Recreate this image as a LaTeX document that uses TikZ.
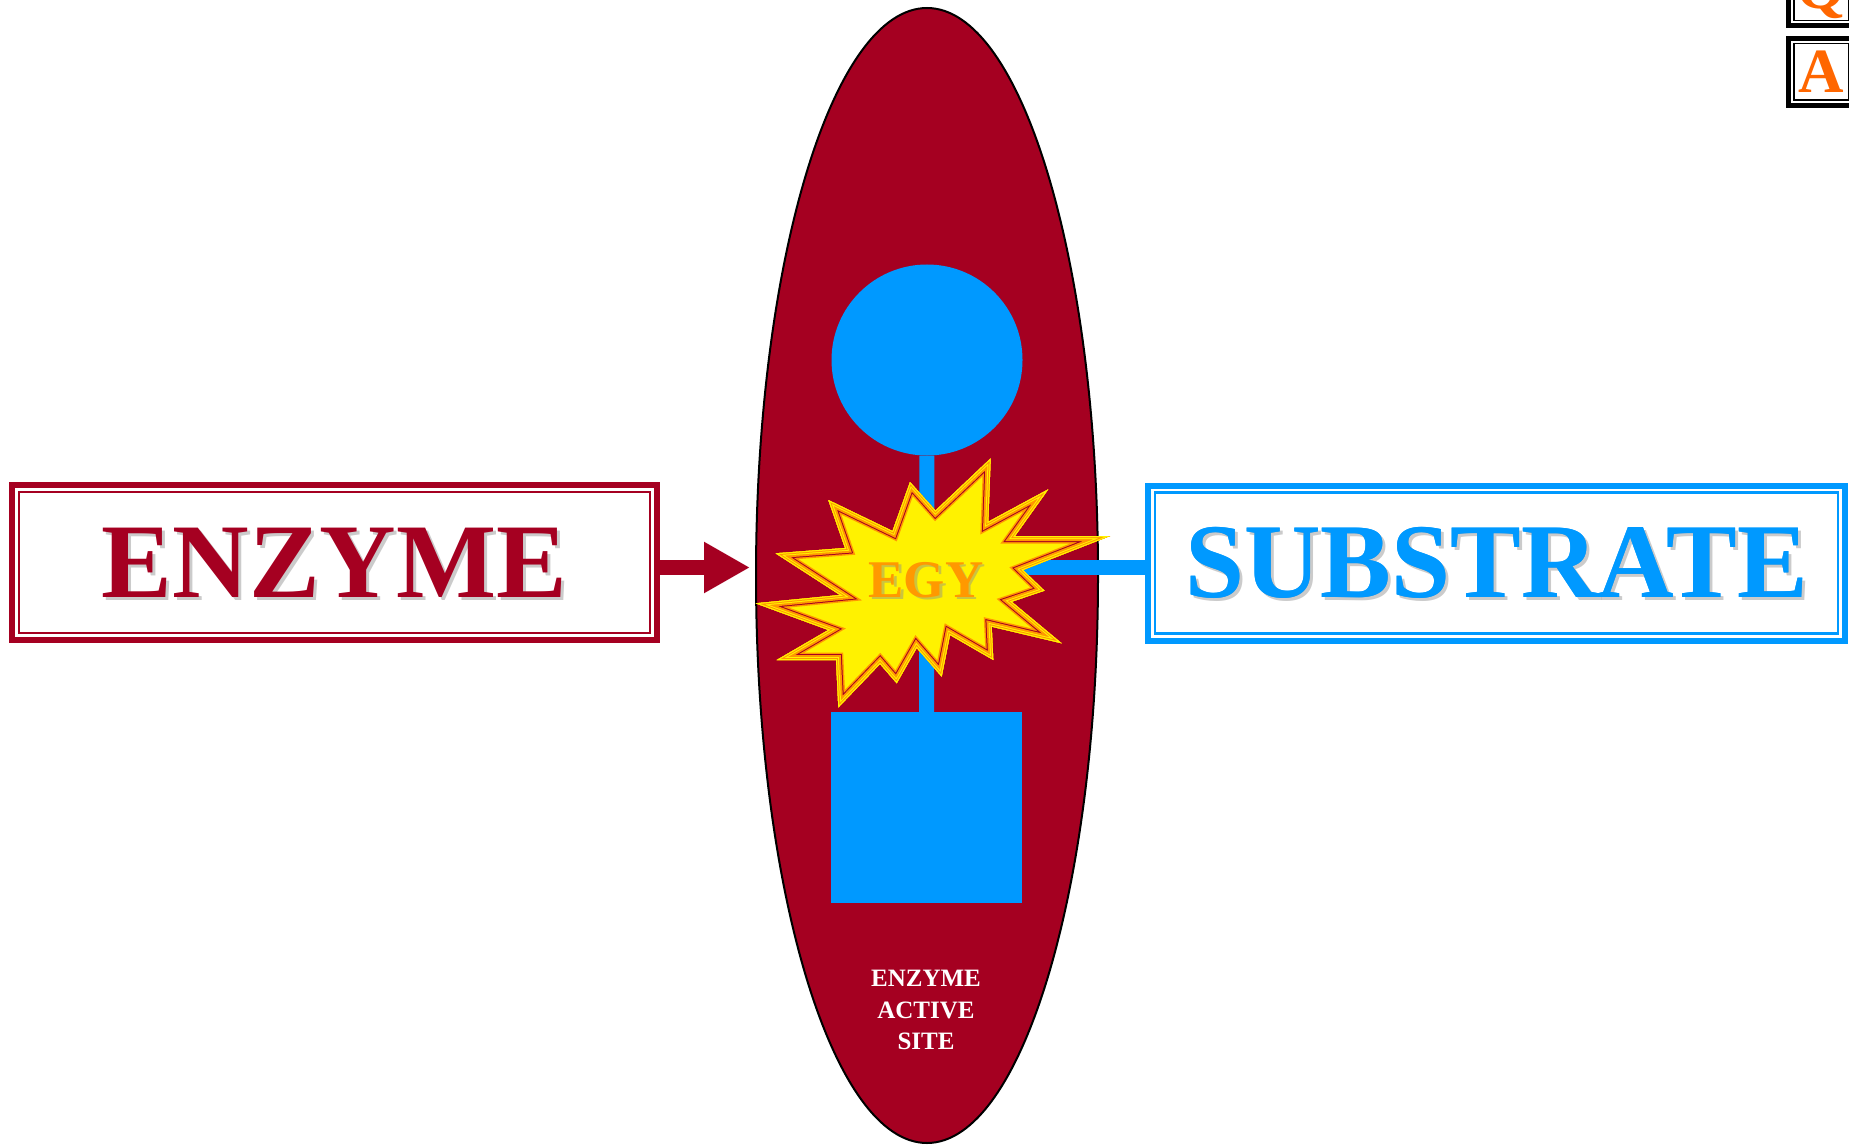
\documentclass[tikz,border=0pt]{standalone}
\usepackage{fontspec}
\setmainfont{Liberation Serif}
\usetikzlibrary{arrows.meta, shapes.geometric}

\definecolor{enzred}{HTML}{A50021}
\definecolor{subblue}{HTML}{0099FF}
\definecolor{burstorange}{HTML}{FF9900}
\definecolor{btnorange}{HTML}{FF6600}

\tikzset{
    bigtext/.style={inner sep=0pt, font=\fontsize{106}{106}\selectfont\bfseries},
    titlebox/.style={bigtext, draw=#1, line width=6pt, text=#1,
        minimum height=155pt},
    innerframe/.style={draw=#1, line width=2.5pt},
    textshadow/.style={text=black!45, opacity=0.45},
    stem/.style={draw=subblue, line width=15pt},
    pointer/.style={draw=enzred, line width=15pt,
        -{Triangle[length=46pt,width=48pt]}},
    navbutton/.style={draw=black, line width=5pt, text=btnorange, inner sep=0pt,
        minimum width=65pt, minimum height=67pt,
        font=\fontsize{63}{63}\selectfont\bfseries},
}

\def\burst{(990.7,458.3) -- (988.3,521.7) -- (1048.3,489.3) -- (1015,536)
    -- (1110,536) -- (1023,570) -- (1044.5,590.7) -- (1011.7,601.7)
    -- (1061.7,643.3) -- (991.7,626.7) -- (993.3,660) -- (950,635)
    -- (941.7,676.7) -- (916.7,648) -- (896.7,683.3) -- (880,664)
    -- (838.3,707.5) -- (836,660) -- (776.7,660) -- (828.3,630)
    -- (755.5,603.3) -- (840,595) -- (775.5,553.3) -- (845,548)
    -- (828.3,500) -- (892.5,531) -- (910,482) -- (935.5,510.5) -- cycle}

\begin{document}
\begin{tikzpicture}[x=1pt, y=-1pt]
    \useasboundingbox (0,0) rectangle (1849,1147);

    \node[ellipse, draw=black, fill=enzred, line width=2pt, inner sep=0pt,
        minimum width=342pt, minimum height=1135pt] (site) at (927,575.5) {};
    \node[circle, fill=subblue, inner sep=0pt, minimum size=191pt] (head) at (927,360) {};
    \node[fill=subblue, inner sep=0pt, minimum size=191pt] (tail) at (926.5,807.5) {};
    \draw[stem] (head) -- (tail);

    \node[titlebox=subblue, minimum width=697pt] (substrate) at (1496.5,563) {SUBSTRATE};
    \coordinate (link) at (990,567.5);
    \draw[stem] (substrate.west |- link) -- (link);

    \begin{scope}
        \clip \burst;
        \fill[yellow] \burst;
        \foreach \c/\w in {burstorange/15, enzred/12, burstorange/10,
            yellow/6, burstorange/4, yellow/2}
            \draw[\c, line width=\w pt, line join=miter] \burst;
    \end{scope}

    \node[anchor=base, textshadow, font=\fontsize{53}{53}\selectfont\bfseries]
        (egyshadow) at (928.5,599) {EGY};
    \node[anchor=base, text=burstorange, font=\fontsize{53}{53}\selectfont\bfseries]
        (egy) at (926,597) {EGY};

    \node[align=center, text=white, inner sep=0pt,
        font=\fontsize{25}{31.7}\selectfont\bfseries] (sitelabel) at (926,1010)
        {ENZYME\\ACTIVE\\SITE};

    \node[bigtext, textshadow] (enzymeshadow) at (337.5,566) {ENZYME};
    \node[bigtext, textshadow] (substrateshadow) at (1499.5,566) {SUBSTRATE};
    \node[titlebox=enzred, minimum width=645pt] (enzyme) at (334.5,562.5) {ENZYME};
    \node[titlebox=subblue, minimum width=697pt, draw=none] at (substrate) {SUBSTRATE};

    \draw[innerframe=enzred] ([shift={(10pt,-10pt)}]enzyme.north west)
        rectangle ([shift={(-10pt,10pt)}]enzyme.south east);
    \draw[innerframe=subblue] ([shift={(10pt,-10pt)}]substrate.north west)
        rectangle ([shift={(-10pt,10pt)}]substrate.south east);

    \coordinate (tip) at (750,567.5);
    \draw[pointer] (enzyme.east |- tip) -- (tip);

    \node[navbutton] (btnq) at (1821,-7.7) {Q};
    \node[navbutton] (btna) at (1821,72) {A};
    \draw[line width=1.5pt] ([shift={(7.75pt,-7.75pt)}]btnq.north west)
        rectangle ([shift={(-7.75pt,7.75pt)}]btnq.south east);
    \draw[line width=1.5pt] ([shift={(7.75pt,-7.75pt)}]btna.north west)
        rectangle ([shift={(-7.75pt,7.75pt)}]btna.south east);
\end{tikzpicture}
\end{document}
